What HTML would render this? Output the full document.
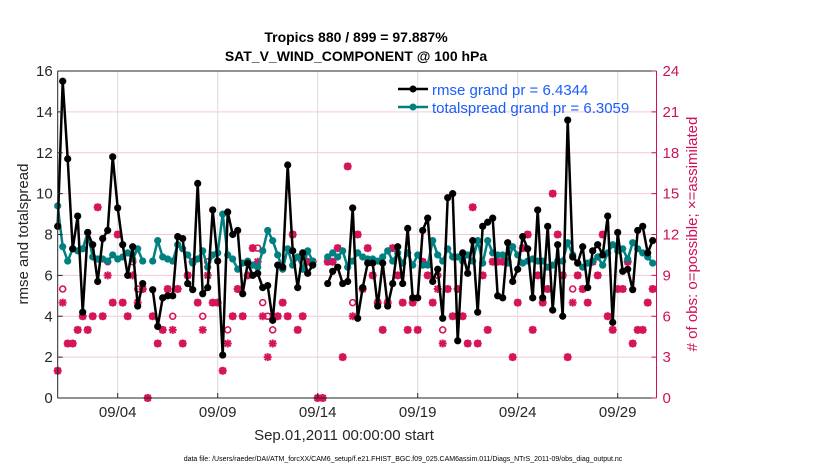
<!DOCTYPE html>
<html><head><meta charset="utf-8"><style>
body{margin:0;background:#fff;}
svg{display:block;font-family:"Liberation Sans",sans-serif;}
</style></head><body>
<svg id="chart" width="830" height="470">
<text x="356" y="42" text-anchor="middle" font-size="14" font-weight="bold">Tropics 880 / 899 = 97.887%</text>
<text x="356" y="61" text-anchor="middle" font-size="14" font-weight="bold">SAT_V_WIND_COMPONENT @ 100 hPa</text>
<g id="grid"></g>
<g id="marks"></g>
<g id="axes"></g>
<text x="0" y="0" transform="translate(28,234) rotate(-90)" text-anchor="middle" font-size="15" fill="#262626">rmse and totalspread</text>
<text x="0" y="0" transform="translate(697,234) rotate(-90)" text-anchor="middle" font-size="15" fill="#d0105a"># of obs: o=possible; ×=assimilated</text>
<text x="344" y="440" text-anchor="middle" font-size="15" fill="#262626">Sep.01,2011 00:00:00 start</text>
<text x="403" y="461" text-anchor="middle" font-size="7" fill="#000">data file: /Users/raeder/DAI/ATM_forcXX/CAM6_setup/f.e21.FHIST_BGC.f09_025.CAM6assim.011/Diags_NTrS_2011-09/obs_diag_output.nc</text>
<g>
<line x1="398" y1="89" x2="428" y2="89" stroke="#000" stroke-width="2.5"/>
<circle cx="413" cy="89" r="3.5" fill="#000"/>
<text x="432" y="95" font-size="15" fill="#1a5cff">rmse grand pr = 6.4344</text>
<line x1="398" y1="107" x2="428" y2="107" stroke="#008080" stroke-width="2.5"/>
<circle cx="413" cy="107" r="3.5" fill="#008080"/>
<text x="432" y="113" font-size="15" fill="#1a5cff">totalspread grand pr = 6.3059</text>
</g>
</svg>
<script>
const rmse=[8.4,15.5,11.7,7.3,8.9,4.2,8.1,7.5,5.7,7.8,8.2,11.8,9.3,7.5,6.0,7.4,4.5,5.6,null,5.3,3.5,4.9,5.0,5.0,7.9,7.8,5.6,5.3,10.5,5.1,5.4,9.2,6.7,2.1,9.1,8.0,8.2,5.1,6.6,6.0,6.1,5.4,5.5,3.8,6.5,6.4,11.4,7.2,5.4,7.1,6.1,6.5,null,null,5.6,6.2,6.4,5.6,5.7,9.3,3.9,5.4,6.6,6.6,4.5,6.6,4.5,5.6,7.4,5.6,8.3,4.9,4.9,8.2,8.8,5.7,6.3,3.9,9.8,10.0,2.8,7.1,6.1,7.7,4.2,8.4,8.6,8.8,5.0,4.9,7.6,5.7,6.3,7.9,7.3,4.9,9.2,4.9,8.4,4.3,7.5,4.0,13.6,6.9,6.6,7.4,5.4,7.2,7.5,7.0,8.9,3.7,8.1,6.2,6.3,5.3,8.2,8.4,7.1,7.7];
const spread=[9.4,7.4,6.7,7.3,7.2,7.3,8.1,6.9,6.8,6.8,6.7,7.0,6.8,6.9,7.1,6.8,7.3,6.7,null,6.7,7.7,6.9,6.8,6.7,7.5,7.3,7.0,6.6,6.8,7.2,6.4,7.0,7.1,9.0,7.0,6.8,6.3,6.6,6.7,6.5,6.4,7.2,8.2,7.7,7.0,6.3,7.3,6.5,6.9,6.3,7.2,6.7,null,null,6.9,7.1,6.9,7.2,6.4,6.7,7.1,6.9,6.8,6.8,6.7,6.9,7.2,6.7,7.1,6.6,7.1,6.5,7.0,6.5,6.5,7.7,7.0,6.7,7.3,6.9,6.9,6.7,7.0,6.7,7.7,6.6,7.7,7.1,7.0,7.0,6.6,7.4,7.0,6.6,6.7,6.8,6.7,6.7,6.4,6.5,6.7,6.7,7.6,7.0,6.6,6.4,6.6,6.7,6.9,6.5,7.1,7.5,7.2,7.3,6.8,7.6,7.3,7.1,6.9,6.6];
const nPossible=[2,8,4,4,5,6,5,6,14,6,10,7,12,7,6,10,8,8,0,6,4,5,8,6,8,4,9,10,7,6,10,7,7,2,5,6,8,6,9,11,11,7,6,5,6,7,6,12,5,6,10,10,0,0,10,10,11,3,17,7,12,8,11,9,7,5,7,11,9,7,5,7,5,10,9,7,9,5,8,6,8,6,4,14,4,9,5,10,10,10,10,3,7,11,12,5,9,7,8,15,12,9,3,8,9,8,7,10,9,12,6,5,8,8,10,4,5,5,7,8];
const nAssim=[2,7,4,4,5,6,5,6,14,6,9,7,12,7,6,9,7,8,0,6,4,5,8,5,8,4,9,10,7,5,9,7,7,2,4,6,8,6,9,11,10,6,3,4,6,7,6,12,5,6,10,10,0,0,10,10,11,3,17,6,12,8,11,9,7,5,7,11,9,7,5,7,5,10,9,7,8,4,8,6,8,6,4,14,4,9,5,10,10,10,10,3,7,11,12,5,9,7,8,15,12,9,3,7,9,8,7,10,9,12,6,5,8,8,10,4,5,5,7,8];
const leftTicks=[0,2,4,6,8,10,12,14,16];
const rightTicks=[0,3,6,9,12,15,18,21,24];
const dateLabels=["09/04","09/09","09/14","09/19","09/24","09/29"];
const dateDays=[3,8,13,18,23,28];

const NS="http://www.w3.org/2000/svg";
const X0=57.7,X1=656.5,PXDAY=20,Y0=398,Y1=71;
const xs=d=>X0+d*PXDAY;
const yl=v=>Y0-(v/16)*(Y0-Y1);
const yr=n=>Y0-(n/24)*(Y0-Y1);
function mk(t,a,p){const e=document.createElementNS(NS,t);for(const k in a)e.setAttribute(k,a[k]);p.appendChild(e);return e;}
const grid=document.getElementById('grid'),marks=document.getElementById('marks'),axes=document.getElementById('axes');

leftTicks.forEach(v=>{if(v>0&&v<16){const l=mk('line',{x1:X0,x2:X1,y1:yl(v),y2:yl(v),stroke:'#f3c9d8','stroke-width':1},grid);

}});
dateDays.forEach((d,i)=>{const l=mk('line',{x1:xs(d),x2:xs(d),y1:Y1,y2:Y0,stroke:'#dcdcdc','stroke-width':1},grid);


const t=mk('text',{x:xs(d),y:Y0+19,'text-anchor':'middle','font-size':15,fill:'#262626'},axes);t.textContent=dateLabels[i];


mk('line',{x1:xs(d),x2:xs(d),y1:Y0,y2:Y0-5,stroke:'#262626'},axes);});

// obs markers
nPossible.forEach((n,i)=>{const x=xs(i*0.25);
const c=mk('circle',{cx:x,cy:yr(n),r:3,fill:'none',stroke:'#d6145a','stroke-width':1.6},marks);

});
nAssim.forEach((n,i)=>{const x=xs(i*0.25),y=yr(n);
const g=mk('g',{stroke:'#d6145a','stroke-width':2},marks);


mk('line',{x1:x-4,x2:x+4,y1:y,y2:y},g);mk('line',{x1:x,x2:x,y1:y-4,y2:y+4},g);
mk('line',{x1:x-3,x2:x+3,y1:y-3,y2:y+3},g);mk('line',{x1:x-3,x2:x+3,y1:y+3,y2:y-3},g);});

function series(arr,color,name){let d='',pen=false;arr.forEach((v,i)=>{if(v==null){pen=false;return;}d+=(pen?'L':'M')+xs(i*0.25).toFixed(1)+','+yl(v).toFixed(1);pen=true;});
const p=mk('path',{d:d,fill:'none',stroke:color,'stroke-width':2.5,'stroke-linejoin':'round'},marks);


arr.forEach((v,i)=>{if(v==null)return;const c=mk('circle',{cx:xs(i*0.25),cy:yl(v),r:3.6,fill:color},marks);

});}
series(spread,'#008080','totalspread');
series(rmse,'#000000','rmse');

// axes
mk('line',{x1:X0,x2:X1,y1:Y1,y2:Y1,stroke:'#262626'},axes);
mk('line',{x1:X0,x2:X1,y1:Y0,y2:Y0,stroke:'#262626'},axes);
mk('line',{x1:X0,x2:X0,y1:Y1,y2:Y0,stroke:'#262626'},axes);
mk('line',{x1:X1,x2:X1,y1:Y1,y2:Y0,stroke:'#d0105a'},axes);
leftTicks.forEach(v=>{mk('line',{x1:X0,x2:X0+5,y1:yl(v),y2:yl(v),stroke:'#262626'},axes);
const t=mk('text',{x:X0-5,y:yl(v)+5,'text-anchor':'end','font-size':15,fill:'#262626'},axes);t.textContent=v;

});
rightTicks.forEach(v=>{mk('line',{x1:X1,x2:X1-5,y1:yr(v),y2:yr(v),stroke:'#d0105a'},axes);
const t=mk('text',{x:X1+6,y:yr(v)+5,'font-size':15,fill:'#d0105a'},axes);t.textContent=v;

});
</script>
</body></html>
